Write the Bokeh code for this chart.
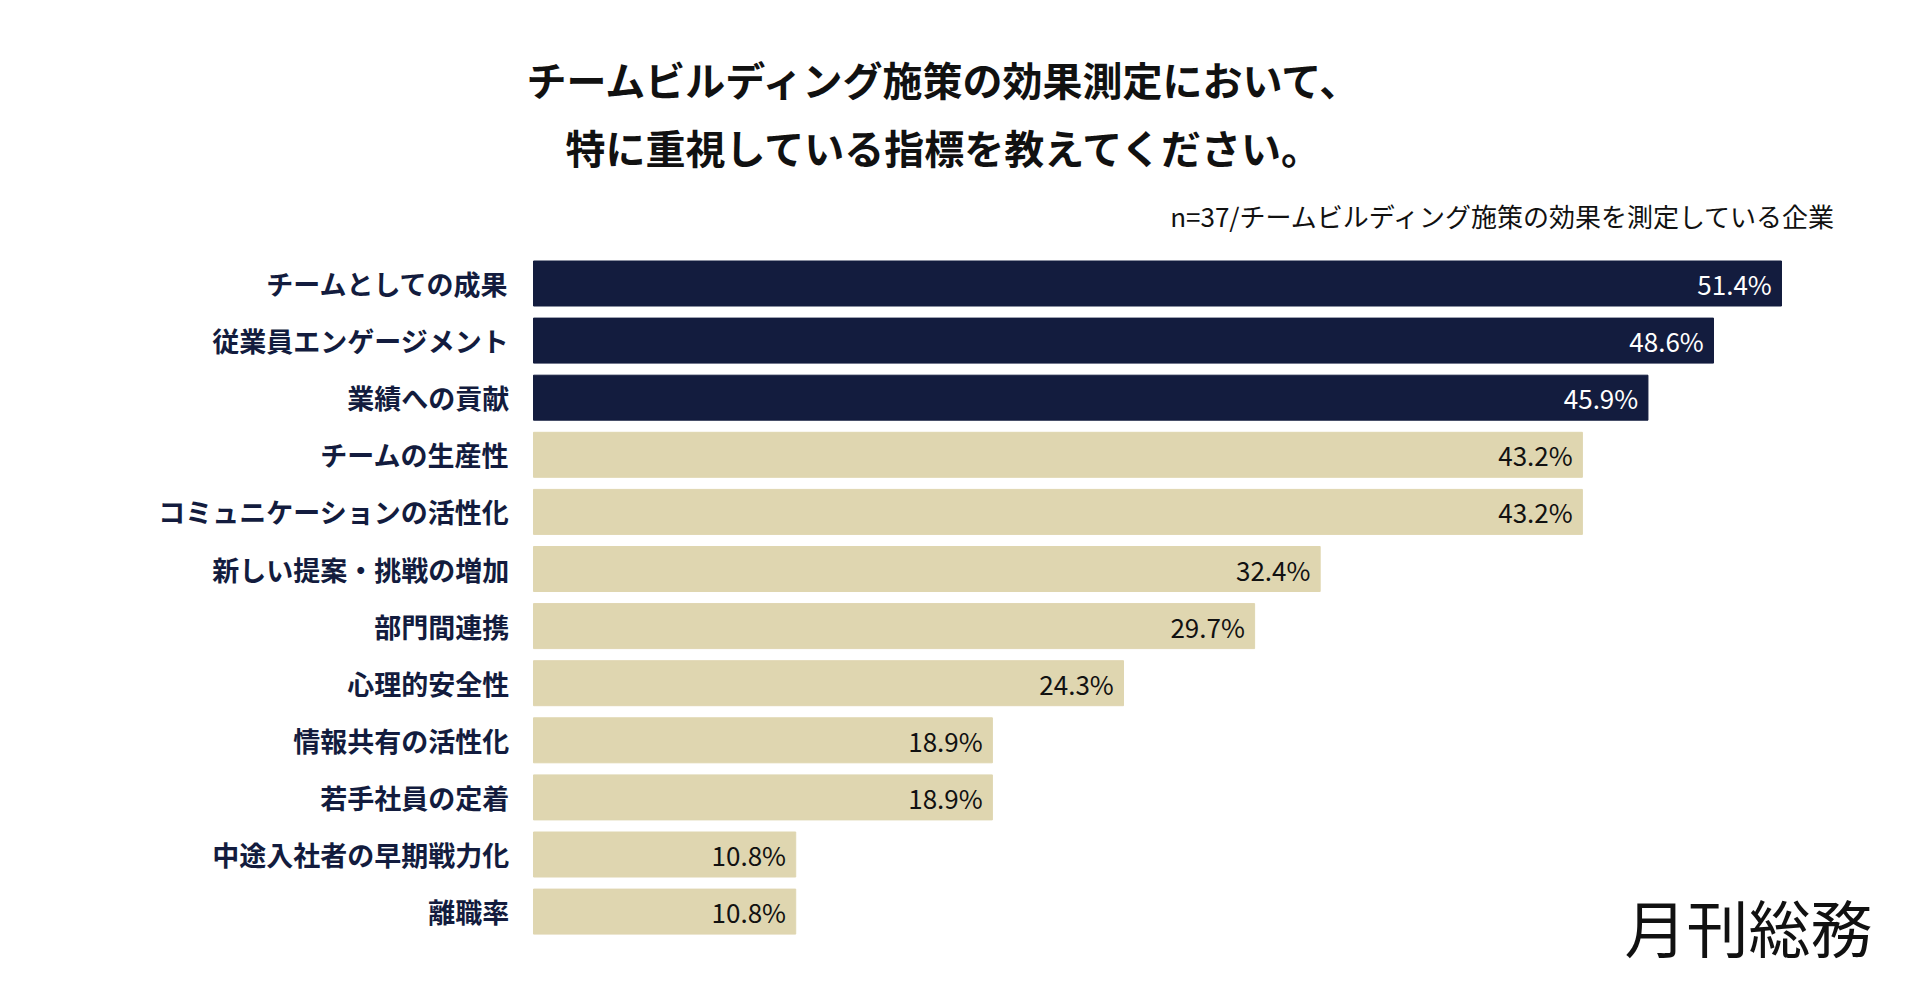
from bokeh.plotting import figure
from bokeh.models import Range1d, ColumnDataSource
from bokeh.core.properties import value
from bokeh.embed import file_html
from bokeh.resources import INLINE

categories = ["チームとしての成果", "従業員エンゲージメント", "業績への貢献", "チームの生産性",
              "コミュニケーションの活性化", "新しい提案・挑戦の増加", "部門間連携", "心理的安全性",
              "情報共有の活性化", "若手社員の定着", "中途入社者の早期戦力化", "離職率"]
values = [51.4, 48.6, 45.9, 43.2, 43.2, 32.4, 29.7, 24.3, 18.9, 18.9, 10.8, 10.8]
highlight = [True, True, True] + [False] * 9

NAVY = "#131c3e"
BEIGE = "#dfd6b0"
FONT = "Noto Sans CJK JP"
W, H = 1904, 989
x0, scale = 533, 24.28
row0, pitch = 283, 57.1

ys = [row0 + i * pitch for i in range(len(categories))]
src = ColumnDataSource(dict(
    y=ys, v=values, cat=categories,
    color=[NAVY if h else BEIGE for h in highlight],
    tcolor=["white" if h else "#111111" for h in highlight],
    tx=[v - 0.4 for v in values],
    lab=[f"{v:.1f}%" for v in values],
))

p = figure(width=W, height=H, output_backend="svg", toolbar_location=None,
           x_range=Range1d(-x0 / scale, (W - x0) / scale), y_range=Range1d(H, 0),
           min_border=0)
p.axis.visible = False
p.grid.visible = False
p.outline_line_color = None
p.background_fill_color = "white"

p.hbar(y="y", left=0, right="v", height=45, color="color", source=src)
p.text(x="tx", y="y", text="lab", text_color="tcolor", text_align="right", text_baseline="middle",
       text_font=value(FONT), text_font_size="26px", source=src)
p.text(x=-1.0, y="y", text="cat", text_color=NAVY, text_align="right", text_baseline="middle",
       text_font=value(FONT), text_font_size="27px", text_font_style="bold", source=src)

tx = (945 - x0) / scale
p.text(x=[tx, tx], y=[78, 146],
       text=["チームビルディング施策の効果測定において、", "特に重視している指標を教えてください。"],
       text_align="center", text_baseline="middle", text_color="#111111",
       text_font=value(FONT), text_font_size="40px", text_font_style="bold")
p.text(x=[(1837 - x0) / scale], y=[215], text=["n=37/チームビルディング施策の効果を測定している企業"],
       text_align="right", text_baseline="middle", text_color="#111111",
       text_font=value(FONT), text_font_size="26px")
p.text(x=[(1872 - x0) / scale], y=[925], text=["月刊総務"],
       text_align="right", text_baseline="middle", text_color="#111111",
       text_font=value(FONT), text_font_size="62px")

open("out.html", "w").write(file_html(p, INLINE))
